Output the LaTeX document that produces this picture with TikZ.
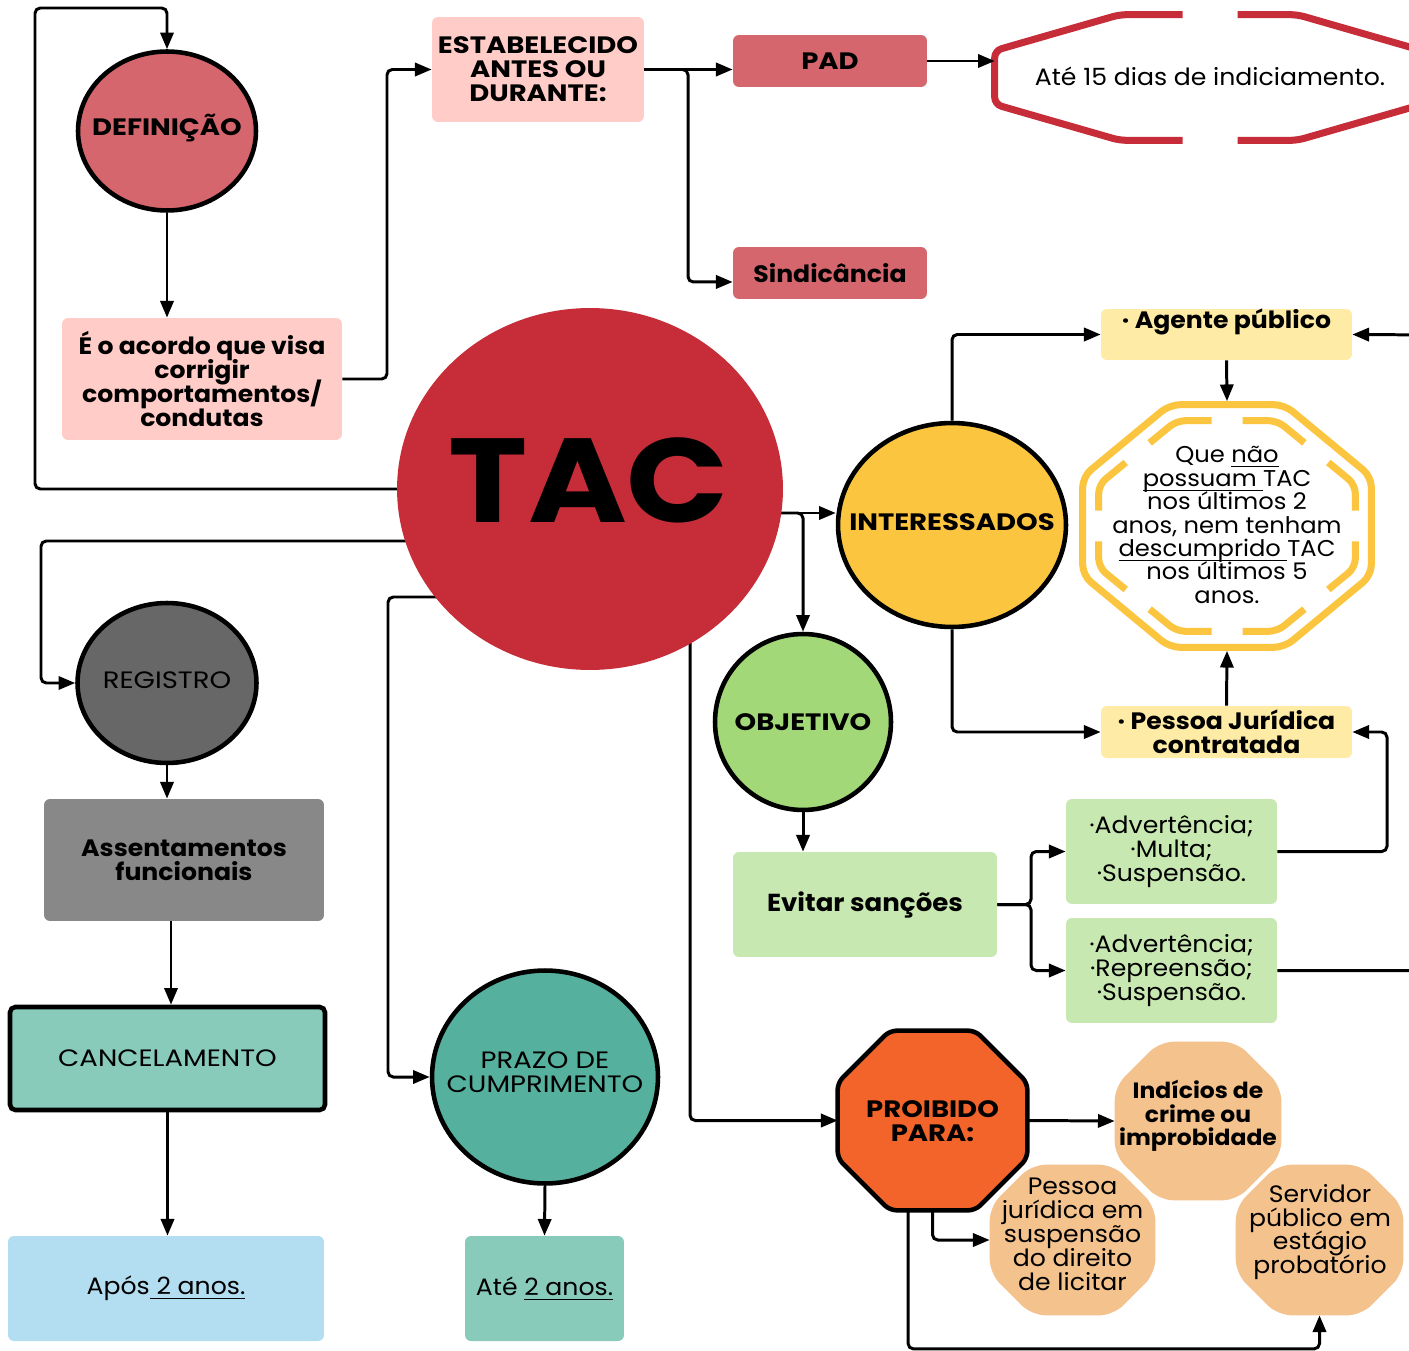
\documentclass[tikz,border=0pt]{standalone}
\usepackage{fontspec}
\setmainfont{Poppins}[FakeStretch=1.06]
\newfontfamily\capsfont{Poppins}[FakeStretch=1.16]
\usetikzlibrary{shapes.geometric,arrows.meta,calc,backgrounds}

\definecolor{cDef}{HTML}{D5666D}
\definecolor{cPink}{HTML}{FFCCC7}
\definecolor{cTac}{HTML}{C62D39}
\definecolor{cYel}{HTML}{FBC53F}
\definecolor{cYelL}{HTML}{FEEBA6}
\definecolor{cGrn}{HTML}{A3D878}
\definecolor{cGrnL}{HTML}{C8E8B1}
\definecolor{cOra}{HTML}{F2642A}
\definecolor{cOraL}{HTML}{F4C28D}
\definecolor{cGry}{HTML}{676767}
\definecolor{cGryL}{HTML}{888888}
\definecolor{cTeaL}{HTML}{88CBBB}
\definecolor{cTea}{HTML}{56B09E}
\definecolor{cBlu}{HTML}{B3DDF1}

% fixed line spacing
\newcommand\tightls{\lineskiplimit-20pt\relax}
% underline that does not change the line depth
\newcommand\myul[1]{\setbox0\hbox{#1}\rlap{\rule[-2.6pt]{\wd0}{0.6pt}}\box0}

% octagon drawn around a (holder) node: node, chamfer x, chamfer y (px), options
\newcommand\octdraw[4]{%
  \path[#4] ($(#1.north west)+(#2,0)$) -- ($(#1.north east)+(-#2,0)$)
    -- ($(#1.north east)+(0,#3)$) -- ($(#1.south east)+(0,-#3)$)
    -- ($(#1.south east)+(-#2,0)$) -- ($(#1.south west)+(#2,0)$)
    -- ($(#1.south west)+(0,-#3)$) -- ($(#1.north west)+(0,#3)$) -- cycle;}

\begin{document}
\begin{tikzpicture}[x=0.02cm,y=-0.02cm,
  txt/.style={font=\fontsize{13.5}{13.6}\selectfont\tightls, align=center, text=black, inner sep=0pt},
  captxt/.style={font=\fontsize{13.5}{13.6}\selectfont\capsfont\tightls},
  bx/.style={txt, rectangle, rounded corners=3.4pt},
  ell/.style={ellipse, draw=black, line width=2.6pt, inner sep=0pt},
  hold/.style={rectangle, inner sep=0pt, draw=none},
  conn/.style={draw=black, line width=1.7pt, rounded corners=3pt, -{Triangle[length=9.5pt,width=7.5pt]}},
]
\clip (0,0) rectangle (1409,1351);
\begin{scope}[on background layer]
  \fill[white] (0,0) rectangle (1409,1351);
\end{scope}

% ---------- nodes ----------
\node[ellipse, fill=cTac, minimum width=7.72cm, minimum height=7.24cm, inner sep=0pt] (tac) at (590,489) {};
\node[inner sep=0pt] (tact) at (589,480) {\fontsize{68}{68}\selectfont\bfseries\scalebox{1.06}[1]{TAC}};

\node[ell, fill=cDef, minimum width=3.56cm, minimum height=3.18cm] (def) at (167,131) {};
\node[txt, captxt] (deft) at (167,128) {\bfseries DEFINIÇÃO};
\node[bx, fill=cPink, minimum width=5.6cm, minimum height=2.44cm] (defbox) at (202,379)
  {\bfseries É o acordo que visa\\ \bfseries corrigir\\ \bfseries comportamentos/\\ \bfseries condutas};
\node[bx, captxt, fill=cPink, minimum width=4.24cm, minimum height=2.1cm] (estab) at (538,69.5)
  {\bfseries ESTABELECIDO\\ \bfseries ANTES OU\\ \bfseries DURANTE:};
\node[bx, captxt, fill=cDef, minimum width=3.88cm, minimum height=1.04cm] (pad) at (830,61) {\bfseries PAD};
\node[bx, fill=cDef, minimum width=3.88cm, minimum height=1.04cm] (sind) at (830,273) {\bfseries Sindicância};

% red open octagon
\node[hold, minimum width=8.54cm, minimum height=2.5cm] (redoct) at (1208.5,77.5) {};
\draw[cTac, line width=4pt, rounded corners=4pt]
  ($(redoct.north)+(-26,0)$) -- ($(redoct.north west)+(125,0)$) -- ($(redoct.north west)+(0,36)$)
  -- ($(redoct.south west)+(0,-36)$) -- ($(redoct.south west)+(125,0)$) -- ($(redoct.south)+(-26,0)$);
\draw[cTac, line width=4pt, rounded corners=4pt]
  ($(redoct.north)+(29,0)$) -- ($(redoct.north east)+(-125,0)$) -- ($(redoct.north east)+(0,36)$)
  -- ($(redoct.south east)+(0,-36)$) -- ($(redoct.south east)+(-125,0)$) -- ($(redoct.south)+(29,0)$);
\node[txt] (redtxt) at (1210,76) {Até 15 dias de indiciamento.};

% interessados
\node[ell, fill=cYel, minimum width=4.56cm, minimum height=4.08cm] (inter) at (952,525) {};
\node[txt, captxt] (intert) at (952,522) {\bfseries INTERESSADOS};
\node[bx, fill=cYelL, minimum width=5.02cm, minimum height=1.02cm] (agente) at (1226.5,334.5) {};
\node[txt] (agentet) at (1226.5,322) {\bfseries · Agente público};
\node[bx, fill=cYelL, minimum width=5.02cm, minimum height=1.04cm] (pj) at (1226.5,732)
  {\bfseries · Pessoa Jurídica\\ \bfseries contratada};

% yellow double octagon
\node[hold, minimum width=5.76cm, minimum height=4.84cm] (yoct) at (1227,526) {};
\octdraw{yoct}{87}{72}{draw=cYel, line width=4pt, rounded corners=6pt}
\node[hold, minimum width=5.12cm, minimum height=4.2cm] (yin) at (1227,526) {};
\coordinate (P1) at ($(yin.north west)+(78,0)$);
\coordinate (P2) at ($(yin.north east)+(-78,0)$);
\coordinate (P3) at ($(yin.north east)+(0,64)$);
\coordinate (P4) at ($(yin.south east)+(0,-64)$);
\coordinate (P5) at ($(yin.south east)+(-78,0)$);
\coordinate (P6) at ($(yin.south west)+(78,0)$);
\coordinate (P7) at ($(yin.south west)+(0,-64)$);
\coordinate (P8) at ($(yin.north west)+(0,64)$);
\foreach \a/\b in {8/1,1/2,2/3,3/4,4/5,5/6,6/7,7/8}
  \coordinate (m\a\b) at ($(P\a)!0.5!(P\b)$);
\foreach \a/\b/\c in {8/1/2,1/2/3,2/3/4,3/4/5,4/5/6,5/6/7,6/7/8,7/8/1}
  \draw[cYel, line width=4pt, rounded corners=5pt] ($(m\a\b)!0.31cm!(P\b)$) -- (P\b) -- ($(m\b\c)!0.31cm!(P\b)$);
\node[txt, font=\fontsize{13}{13.3}\selectfont\tightls] (yoctt) at (1227,525)
  {Que \myul{não}\\ \myul{possuam }TAC\\ nos últimos 2\\ anos, nem tenham\\ \myul{descumprido }TAC\\ nos últimos 5\\ anos.};

% objetivo
\node[ell, fill=cGrn, minimum width=3.52cm, minimum height=3.52cm] (obj) at (803,722) {};
\node[txt, captxt] (objt) at (803,722) {\bfseries OBJETIVO};
\node[bx, fill=cGrnL, minimum width=5.28cm, minimum height=2.1cm, font=\fontsize{14}{14}\selectfont] (evitar) at (865,904.5) {\bfseries Evitar sanções};
\node[bx, fill=cGrnL, minimum width=4.22cm, minimum height=2.1cm] (adv1) at (1171.5,851.5)
  {·Advertência;\\ ·Multa;\\ ·Suspensão.};
\node[bx, fill=cGrnL, minimum width=4.22cm, minimum height=2.1cm] (adv2) at (1171.5,970.5)
  {·Advertência;\\ ·Repreensão;\\ ·Suspensão.};

% proibido
\node[hold, minimum width=3.78cm, minimum height=3.58cm] (proib) at (932.5,1120.5) {};
\octdraw{proib}{52}{52}{fill=cOra, draw=black, line width=2.6pt, rounded corners=4pt}
\node[txt, captxt] (proibt) at (932.5,1121) {\bfseries PROIBIDO\\ \bfseries PARA:};
\node[hold, minimum width=3.32cm, minimum height=3.16cm] (ind) at (1198,1121) {};
\octdraw{ind}{45}{45}{fill=cOraL, rounded corners=8pt}
\node[txt, font=\fontsize{12.6}{13.4}\selectfont\tightls] (indt) at (1198,1116) {\bfseries Indícios de\\ \bfseries crime ou\\ \bfseries improbidade};
\node[hold, minimum width=3.3cm, minimum height=3.0cm] (pjl) at (1072.5,1240) {};
\octdraw{pjl}{42}{42}{fill=cOraL, rounded corners=8pt}
\node[txt] (pjlt) at (1072.5,1234.5) {Pessoa\\ jurídica em\\ suspensão\\ do direito\\ de licitar};
\node[hold, minimum width=3.34cm, minimum height=3.0cm] (serv) at (1319.5,1240) {};
\octdraw{serv}{42}{42}{fill=cOraL, rounded corners=8pt}
\node[txt] (servt) at (1320,1232) {Servidor\\ público em\\ estágio\\ probatório};

% left column
\node[ell, fill=cGry, minimum width=3.58cm, minimum height=3.2cm] (reg) at (167,683) {};
\node[txt, captxt] (regt) at (167,680) {REGISTRO};
\node[bx, fill=cGryL, minimum width=5.6cm, minimum height=2.44cm] (assent) at (184,860)
  {\bfseries Assentamentos\\ \bfseries funcionais};
\node[bx, captxt, fill=cTeaL, draw=black, line width=2.6pt, rounded corners=3pt, minimum width=6.3cm, minimum height=2.06cm] (cancel) at (167.5,1058.5) {CANCELAMENTO};
\node[bx, fill=cBlu, minimum width=6.32cm, minimum height=2.1cm] (apos) at (166,1288.5) {Após\myul{ 2 anos.}};
\node[ell, fill=cTea, minimum width=4.52cm, minimum height=4.26cm] (prazo) at (545,1077) {};
\node[txt, captxt] (prazot) at (545,1072) {PRAZO DE\\ CUMPRIMENTO};
\node[bx, fill=cTeaL, minimum width=3.18cm, minimum height=2.1cm] (ate) at (544.5,1288.5) {Até \myul{2 anos.}};

% ---------- connectors from TAC (behind it) ----------
\begin{scope}[on background layer]
  \draw[conn] (tac.center) -- (35,489) -- (35,8) -| (def.north);
  \draw[conn] (tac.center |- 0,541) -- (41,541) |- (reg.west);
  \draw[conn] (tac.center |- 0,597) -- (388,597) |- (prazo.west);
  \draw[conn] (tac.center -| 690,0) |- (proib.west);
  \draw[conn] (tac.center |- 0,513) -- (inter.west |- 0,513);
  \draw[conn] (tac.center |- 0,513) -| (obj.north);
\end{scope}

% ---------- other connectors ----------
\draw[conn] (def.south) -- (def.south |- defbox.north);
\draw[conn] (defbox.east) -- (387,379) |- (estab.west);
\draw[conn] (estab.east) -- (estab.east -| pad.west);
\draw[conn] (estab.east) -- (688,69.5) |- ([yshift=-5.1pt]sind.west);
\draw[conn] (pad.east) -- (pad.east -| redoct.west);
\draw[conn] (inter.north) |- (agente.west);
\draw[conn] (inter.south) |- (pj.west);
\draw[conn] (agente.south) -- ([yshift=2pt]yoct.north);
\draw[conn] (pj.north) -- ([yshift=-2pt]yoct.south);
\draw[conn] (adv2.east) -- (1440,970.5) -- (1440,335) -- (agente.east);
\draw[conn] (adv1.east) -- (1387,851.5) |- (pj.east);
\draw[conn] (obj.south) -- (obj.south |- evitar.north);
\draw[conn] (evitar.east) -- (1031,904.5) |- (adv1.west);
\draw[conn] (evitar.east) -- (1031,904.5) |- (adv2.west);
\draw[conn] (reg.south) -- (reg.south |- assent.north);
\draw[conn] ([xshift=-7.4pt]assent.south) -- ([xshift=-7.4pt]assent.south |- cancel.north);
\draw[conn] (cancel.south) -- (cancel.south |- apos.north);
\draw[conn] (prazo.south) -- (ate.north);
\draw[conn] (proib.east) -- (ind.west);
\draw[conn] (proib.south) |- (pjl.west);
\draw[conn] ([xshift=-13.9pt]proib.south) -- ++(0,138.5) -| (serv.south);
\end{tikzpicture}
\end{document}
